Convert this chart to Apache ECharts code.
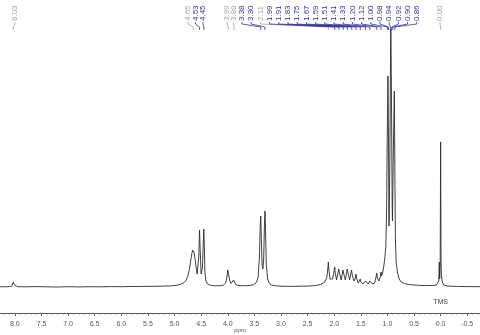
<!DOCTYPE html>
<html><head><meta charset="utf-8">
<script src="https://cdn.jsdelivr.net/npm/echarts@6/dist/echarts.min.js"></script>
<style>html,body{margin:0;padding:0;background:#fff}#c{width:480px;height:335px}</style>
</head><body><div id="c"></div>
<script>
// ---- data ----
const specPpm = [8.28,8.20,8.10,8.06,8.045,8.03,8.015,8.00,7.95,7.80,7.60,7.40,7.20,7.00,6.80,6.60,6.40,6.20,6.00,5.80,5.60,5.40,5.20,5.05,4.95,4.88,4.82,4.78,4.75,4.72,4.70,4.68,4.66,4.65,4.63,4.61,4.59,4.575,4.56,4.545,4.53,4.515,4.50,4.49,4.475,4.46,4.45,4.44,4.43,4.41,4.38,4.33,4.25,4.15,4.08,4.04,4.015,4.00,3.99,3.98,3.965,3.94,3.915,3.89,3.88,3.87,3.85,3.80,3.70,3.60,3.52,3.47,3.43,3.405,3.39,3.38,3.37,3.355,3.34,3.325,3.31,3.30,3.29,3.275,3.25,3.22,3.18,3.10,3.00,2.80,2.60,2.45,2.35,2.25,2.18,2.14,2.12,2.11,2.10,2.08,2.06,2.03,2.00,1.99,1.98,1.955,1.93,1.915,1.91,1.90,1.87,1.85,1.835,1.83,1.82,1.79,1.765,1.755,1.75,1.74,1.71,1.685,1.675,1.67,1.66,1.63,1.60,1.59,1.58,1.55,1.525,1.51,1.50,1.46,1.425,1.41,1.40,1.36,1.34,1.33,1.32,1.28,1.24,1.21,1.20,1.19,1.16,1.13,1.12,1.11,1.09,1.07,1.05,1.03,1.015,1.005,0.99,0.98,0.97,0.955,0.94,0.935,0.925,0.91,0.905,0.89,0.87,0.86,0.85,0.835,0.81,0.78,0.74,0.68,0.60,0.45,0.30,0.15,0.08,0.05,0.035,0.025,0.018,0.008,0.000,-0.008,-0.015,-0.022,-0.03,-0.06,-0.12,-0.30,-0.50,-0.74];
const specInt = [0.3,0.2,0.4,0.8,2.5,5,2.5,0.8,0.3,0.2,0.4,0.2,0.0,0.3,0.1,0.3,0.2,0.4,0.3,0.5,0.6,0.7,0.9,1.2,1.8,2.8,4.5,7,11,18,25,32,37,38,34,26,18,13,14,30,57,32,13,11,20,45,58,40,15,6,3,1.8,1.2,1.2,2,4,10,17,19,15,7,3.5,4,7,8,6,2.5,1.5,1.2,1.5,2.2,4,9,30,62,71,50,22,18,28,64,76,55,22,8,3.5,2,1.2,0.8,0.6,0.8,1,1.5,2.5,5,9,18,25,18,8,7,8,17,20,14,7,9,18,19,14,7,9,17,19,13,7,9,18,20,14,7,9,17,18,12,6,9,13,9,4,5,8,5,3,4,6,4,3,5,6,4,3,4,11,14,9,6,11,15,11,14,20,28,40,75,140,211,150,61,120,240,258,200,80,66,130,196,120,50,25,14,8,5,3.5,2.5,1.8,1.5,1.5,2,3,6,25,8,20,145,25,12,14,5,2,1,0.6,0.4,0.3];
const peakLabels = ["8.03","4.65","4.53","4.45","3.99","3.88","3.38","3.30","2.11","1.99","1.91","1.83","1.75","1.67","1.59","1.51","1.41","1.33","1.20","1.12","1.00","0.98","0.94","0.92","0.90","0.86","0.00"];
const peakPpm = [8.03,4.65,4.53,4.45,3.99,3.88,3.38,3.30,2.11,1.99,1.91,1.83,1.75,1.67,1.59,1.51,1.41,1.33,1.20,1.12,1.00,0.98,0.94,0.92,0.90,0.86,0.00];
const tickLabels = [8.0,7.5,7.0,6.5,6.0,5.5,5.0,4.5,4.0,3.5,3.0,2.5,2.0,1.5,1.0,0.5,0.0,-0.5];
const minorTicks = [];
for (let i = -7; i <= 82; i++) minorTicks.push(i / 10);
const refName = "TMS";
const refPpm = 0.0;
const axisName = "ppm";

// ---- layout / style ----
const X_MIN = -0.74, X_MAX = 8.28;
const GRAY = '#a6a6a6', BLUE = '#34349c';
const grayLabels = new Set(["8.03","4.65","3.99","3.88","2.11","0.00"]);
function labelX(i) {
  if (i === 0) return 15;
  if (i <= 3) return 188 + (i - 1) * 7.5;
  if (i <= 5) return 227 + (i - 4) * 6.5;
  if (i <= 25) return 242 + (i - 6) * 9.2;
  return 440;
}

const spec = specPpm.map((p, i) => [p, specInt[i]]);
const chart = echarts.init(document.getElementById('c'), null, {renderer: 'canvas'});
const axisBase = {
  type: 'value', inverse: true, min: X_MIN, max: X_MAX, position: 'bottom',
  splitLine: {show: false}
};
chart.setOption({
  animation: false,
  backgroundColor: '#fff',
  grid: {left: 0, right: 0, top: 0, bottom: 22, containLabel: false, outerBoundsMode: 'none'},
  graphic: [{type: 'text', left: 'center', top: 327,
    style: {text: axisName, font: '6px "Liberation Sans"', fill: '#555'}}],
  xAxis: [
    Object.assign({}, axisBase, {
      axisLine: {show: true, onZero: false, lineStyle: {color: '#555', width: 1}},
      axisTick: {show: true, length: 3, lineStyle: {color: '#555'}, customValues: tickLabels},
      axisLabel: {show: true, customValues: tickLabels, margin: 8, fontSize: 7, color: '#555',
        fontFamily: 'Liberation Sans', formatter: v => (Math.round(v * 10) / 10).toFixed(1)}
    }),
    Object.assign({}, axisBase, {
      axisLine: {show: false, onZero: false},
      axisTick: {show: true, length: 1.5, lineStyle: {color: '#777'}, customValues: minorTicks},
      axisLabel: {show: false}
    })
  ],
  yAxis: {type: 'value', min: -26, max: 287, show: false},
  series: [
    {
      type: 'line', data: spec, xAxisIndex: 0, showSymbol: false, symbol: 'none',
      lineStyle: {color: '#2a2a2a', width: 0.9}, silent: true, clip: false
    },
    {
      type: 'custom', xAxisIndex: 0, silent: true, clip: false,
      data: peakPpm.map((p, i) => [p, i]),
      renderItem: function (params, api) {
        const i = api.value(1);
        const px = api.coord([api.value(0), 0])[0];
        const lx = labelX(i);
        const txt = peakLabels[i];
        const col = grayLabels.has(txt) ? GRAY : BLUE;
        return {
          type: 'group',
          children: [
            {type: 'text', x: lx, y: 21, rotation: Math.PI / 2,
              style: {text: txt, x: 0, y: 0, align: 'left', verticalAlign: 'middle',
                font: '8px "Liberation Sans"', fill: col}},
            {type: 'polyline', shape: {points: [[lx, 22], [lx, 24], [px, 27], [px, 30]]},
              style: {stroke: col, lineWidth: 0.8, fill: null}}
          ]
        };
      }
    },
    {
      type: 'custom', xAxisIndex: 0, silent: true, clip: false,
      data: [[refPpm, 0]],
      renderItem: function (params, api) {
        const px = api.coord([api.value(0), 0])[0];
        return {type: 'text', x: px, y: 302,
          style: {text: refName, x: 0, y: 0, align: 'center', verticalAlign: 'middle',
            font: '7px "Liberation Sans"', fill: '#444'}};
      }
    }
  ]
});
</script></body></html>
